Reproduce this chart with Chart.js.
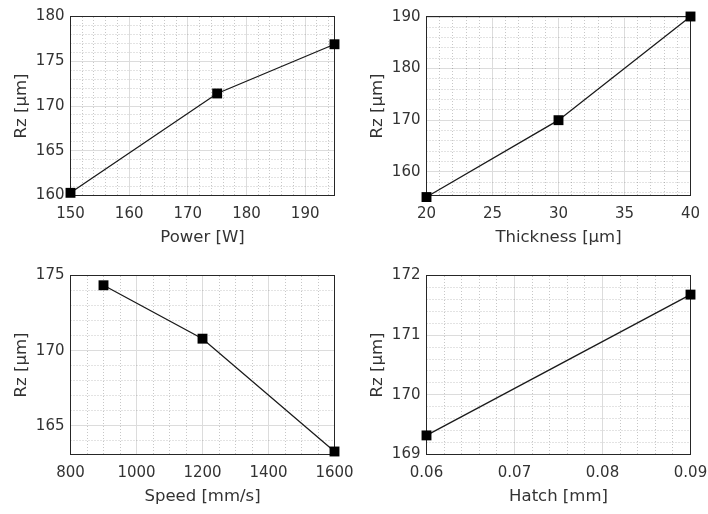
<!DOCTYPE html>
<html>
<head>
<meta charset="utf-8">
<script src="https://cdn.jsdelivr.net/npm/chart.js@4"></script>
<style>
  html, body { margin: 0; padding: 0; background: #fff; width: 708px; height: 514px; overflow: hidden; position: relative; }
  canvas { position: absolute; }
</style>
</head>
<body>
<canvas id="pPower" width="360" height="255" style="left:0;top:0"></canvas>
<canvas id="pThickness" width="360" height="255" style="left:356px;top:0"></canvas>
<canvas id="pSpeed" width="360" height="255" style="left:0;top:259px"></canvas>
<canvas id="pHatch" width="360" height="255" style="left:356px;top:259px"></canvas>
<script>
// Laser power vs. roughness
const power = [150, 175, 195];
const rzPower = [160.3, 171.4, 176.9];
const powerTicks = [150, 160, 170, 180, 190];
const rzPowerTicks = [160, 165, 170, 175, 180];

// Layer thickness vs. roughness
const thickness = [20, 30, 40];
const rzThickness = [155.1, 170.0, 190.1];
const thicknessTicks = [20, 25, 30, 35, 40];
const rzThicknessTicks = [160, 170, 180, 190];

// Scan speed vs. roughness
const speed = [900, 1200, 1600];
const rzSpeed = [174.35, 170.8, 163.3];
const speedTicks = [800, 1000, 1200, 1400, 1600];
const rzSpeedTicks = [165, 170, 175];

// Hatch distance vs. roughness
const hatch = [0.06, 0.09];
const rzHatch = [169.32, 171.68];
const hatchTicks = [0.06, 0.07, 0.08, 0.09];
const rzHatchTicks = [169, 170, 171, 172];

const TEXT = '#333333';
const AXIS = '#262626';
const MAJOR = '#dcdcdc';
const MINOR = 'rgba(0,0,0,0.22)';
const Y_TITLE = 'Rz [μm]';

Chart.defaults.font.family = "'DejaVu Sans', sans-serif";

// minor grid positions between the labelled ticks
function minorTicks(min, max, step, majors) {
  const out = [];
  const n0 = Math.ceil(min / step - 1e-9);
  const n1 = Math.floor(max / step + 1e-9);
  for (let n = n0; n <= n1; n++) {
    const v = Math.round(n * step * 1e9) / 1e9;
    const tol = step * 1e-3;
    if (Math.abs(v - min) < tol || Math.abs(v - max) < tol) continue;
    if (majors.some(m => Math.abs(m - v) < tol)) continue;
    out.push(v);
  }
  return out;
}

function zeroPad(s) {
  s.paddingLeft = 0; s.paddingRight = 0; s.paddingTop = 0; s.paddingBottom = 0;
}

function panel(id, xs, ys, xTicks, yTicks, xLim, yLim, xStep, yStep, xTitle) {
  const xMinor = minorTicks(xLim[0], xLim[1], xStep, xTicks);
  const yMinor = minorTicks(yLim[0], yLim[1], yStep, yTicks);
  new Chart(document.getElementById(id), {
    type: 'line',
    data: {
      datasets: [{
        data: xs.map((x, i) => ({ x: x, y: ys[i] })),
        borderColor: '#1a1a1a',
        borderWidth: 1.3,
        pointStyle: 'rect',
        pointRadius: 7,
        pointBackgroundColor: '#000',
        pointBorderColor: '#000',
        pointBorderWidth: 0,
        tension: 0,
        clip: false,
        xAxisID: 'x',
        yAxisID: 'y'
      }]
    },
    options: {
      responsive: false,
      animation: false,
      events: [],
      layout: { padding: { left: 0, right: 25.5, top: 16.5, bottom: 0 } },
      plugins: { legend: { display: false }, tooltip: { enabled: false } },
      scales: {
        x: {
          type: 'linear', axis: 'x', position: 'bottom',
          min: xLim[0], max: xLim[1],
          afterBuildTicks: s => { s.ticks = xTicks.map(v => ({ value: v })); },
          afterFit: s => { s.height = 59.5; zeroPad(s); },
          ticks: { autoSkip: false, maxRotation: 0, minRotation: 0, padding: 10, color: TEXT,
                   font: { size: 15 }, callback: v => String(v) },
          grid: { color: MAJOR, lineWidth: 1, drawTicks: false },
          border: { display: true, color: AXIS, width: 1 },
          title: { display: true, text: xTitle, color: TEXT, font: { size: 16.5 },
                   padding: { top: 0, bottom: 7.4 } }
        },
        y: {
          type: 'linear', axis: 'y', position: 'left',
          min: yLim[0], max: yLim[1],
          afterBuildTicks: s => { s.ticks = yTicks.map(v => ({ value: v })); },
          afterFit: s => { s.width = 70.5; zeroPad(s); },
          ticks: { autoSkip: false, padding: 6, color: TEXT, font: { size: 15 },
                   callback: v => String(v) },
          grid: { color: MAJOR, lineWidth: 1, drawTicks: false },
          border: { display: true, color: AXIS, width: 1 },
          title: { display: true, text: Y_TITLE, color: TEXT, font: { size: 16.5 },
                   padding: { top: 11.4, bottom: 0 } }
        },
        xMinor: {
          type: 'linear', axis: 'x', position: 'top',
          min: xLim[0], max: xLim[1],
          afterBuildTicks: s => { s.ticks = xMinor.map(v => ({ value: v })); },
          afterFit: s => { s.height = 0; zeroPad(s); },
          ticks: { display: false },
          grid: { color: MINOR, lineWidth: 1, drawTicks: false },
          border: { display: true, color: AXIS, width: 1, dash: [1, 2] }
        },
        yMinor: {
          type: 'linear', axis: 'y', position: 'right',
          min: yLim[0], max: yLim[1],
          afterBuildTicks: s => { s.ticks = yMinor.map(v => ({ value: v })); },
          afterFit: s => { s.width = 0; zeroPad(s); },
          ticks: { display: false },
          grid: { color: MINOR, lineWidth: 1, drawTicks: false },
          border: { display: true, color: AXIS, width: 1, dash: [1, 2] }
        }
      }
    }
  });
}

panel('pPower', power, rzPower, powerTicks, rzPowerTicks, [150, 195], [160, 180], 2, 1, 'Power [W]');
panel('pThickness', thickness, rzThickness, thicknessTicks, rzThicknessTicks, [20, 40], [155.4, 190.1], 1, 2, 'Thickness [μm]');
panel('pSpeed', speed, rzSpeed, speedTicks, rzSpeedTicks, [800, 1600], [163.1, 175], 50, 1, 'Speed [mm/s]');
panel('pHatch', hatch, rzHatch, hatchTicks, rzHatchTicks, [0.06, 0.09], [169, 172], 0.002, 0.2, 'Hatch [mm]');
</script>
</body>
</html>
